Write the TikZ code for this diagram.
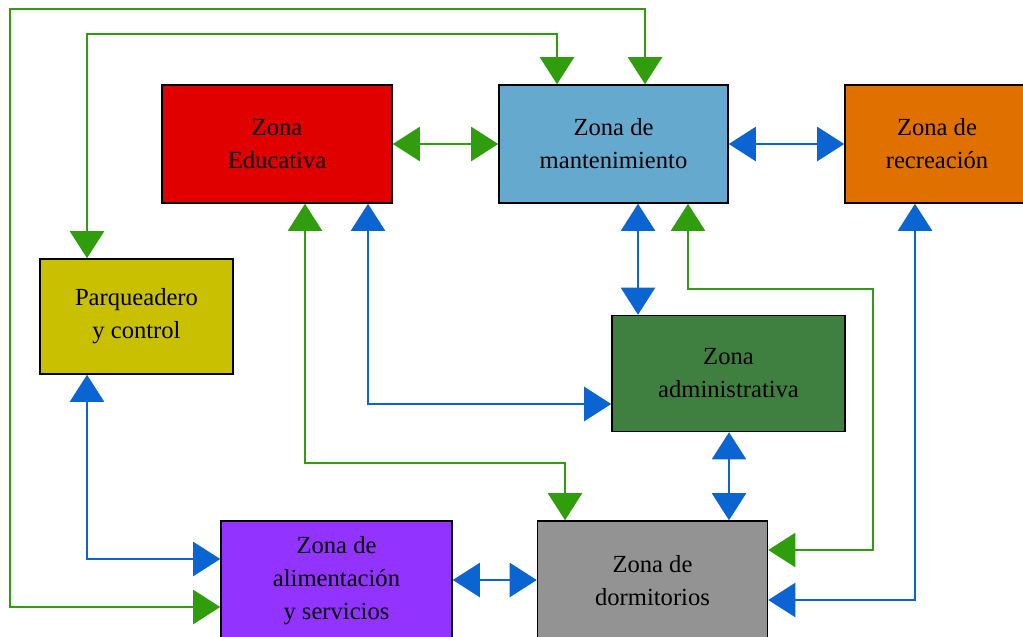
\documentclass[tikz,border=0pt]{standalone}
\usepackage{fontspec}
\setmainfont{Liberation Serif}
\usetikzlibrary{arrows.meta}

\definecolor{edured}{RGB}{224,0,0}
\definecolor{mantblue}{RGB}{102,169,207}
\definecolor{recorange}{RGB}{224,112,0}
\definecolor{parqyellow}{RGB}{200,192,0}
\definecolor{admgreen}{RGB}{63,128,64}
\definecolor{alimviolet}{RGB}{147,51,255}
\definecolor{dormgray}{RGB}{147,147,147}
\definecolor{linkgreen}{RGB}{48,158,12}
\definecolor{linkblue}{RGB}{10,100,210}

\tikzset{
  zone/.style={draw=black, line width=0.9pt, align=center,
    font=\fontsize{14}{18.8}\selectfont, minimum height=2.36cm},
  glink/.style={draw=linkgreen, line width=1.2pt,
    {Triangle[length=0.54cm,width=0.68cm]}-{Triangle[length=0.54cm,width=0.68cm]}},
  blink/.style={glink, draw=linkblue},
}

\begin{document}
\begin{tikzpicture}[x=0.02cm,y=-0.02cm]
%    \draw (0,0) to[grid with coordinates] (1023,636);
    \clip (0,0) rectangle (1023,636);

    \node(edu)  [zone, fill=edured,     minimum width=4.6cm]  at (277,144)   {Zona\\Educativa};
    \node(mant) [zone, fill=mantblue,   minimum width=4.58cm] at (613.5,144) {Zona de\\mantenimiento};
    \node(rec)  [zone, fill=recorange,  minimum width=3.68cm] at (937,144)   {Zona de\\recreación};
    \node(parq) [zone, fill=parqyellow, minimum width=3.86cm, minimum height=2.3cm] at (136.5,316.5) {Parqueadero\\y control};
    \node(adm)  [zone, fill=admgreen,   minimum width=4.66cm, minimum height=2.32cm] at (728.5,373.5) {Zona\\administrativa};
    \node(alim) [zone, fill=alimviolet, minimum width=4.62cm, minimum height=2.4cm]  at (336.5,581)   {Zona de\\alimentación\\y servicios};
    \node(dorm) [zone, fill=dormgray,   minimum width=4.6cm,  minimum height=2.4cm]  at (652.5,581)   {Zona de\\dormitorios};

    % green links
    \draw[glink]   (alim.west |- 0,607)  -| (10,9) -| (mant.north -| 645,0);
    \draw[glink]   (parq.north -| 87,0)  |- (557,34) to (mant.north -| 557,0);
    \draw[glink]   (edu.east)            to (mant.west);
    \draw[glink]   (mant.south -| 688,0) |- (873,289) |- (dorm.east |- 0,550);
    \draw[glink]   (edu.south -| 305,0)  |- (565,463) to (dorm.north -| 565,0);

    % blue links
    \draw[blink]   (mant.east)           to (rec.west);
    \draw[blink]   (mant.south -| 638,0) to (adm.north -| 638,0);
    \draw[blink]   (rec.south -| 915,0)  |- (dorm.east |- 0,600);
    \draw[blink]   (edu.south -| 368,0)  |- (adm.west |- 0,404);
    \draw[blink]   (adm.south -| 729,0)  to (dorm.north -| 729,0);
    \draw[blink]   (parq.south -| 87,0)  |- (alim.west |- 0,559);
    \draw[blink]   (alim.east |- 0,580)  to (dorm.west |- 0,580);
\end{tikzpicture}
\end{document}
